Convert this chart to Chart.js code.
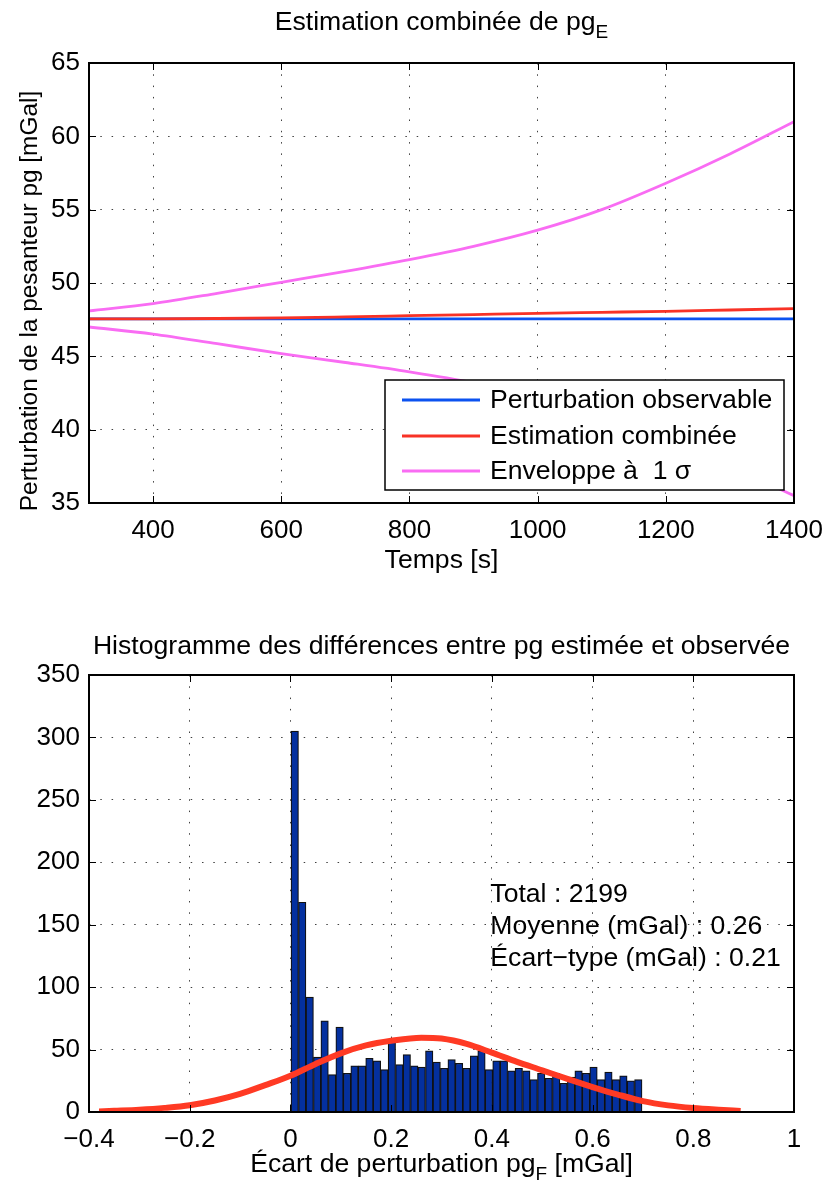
<!DOCTYPE html>
<html><head><meta charset="utf-8">
<script src="https://cdn.jsdelivr.net/npm/chart.js@4/dist/chart.umd.min.js"></script>
<style>
html,body{margin:0;padding:0;background:#fff;}
#wrap{position:relative;width:826px;height:1184px;overflow:hidden;}
canvas{position:absolute;left:0;}
</style></head><body>
<div id="wrap">
<canvas id="c1" width="826" height="592" style="top:0px"></canvas>
<canvas id="c2" width="826" height="592" style="top:592px"></canvas>
</div>
<script>
// ---------- Top chart data ----------
const timeS      = [300, 400, 500, 600, 700, 800, 900, 1000, 1100, 1200, 1300, 1400];
const observed   = [47.55, 47.55, 47.55, 47.55, 47.55, 47.55, 47.55, 47.55, 47.55, 47.55, 47.55, 47.55];
const combined   = [47.55, 47.56, 47.58, 47.62, 47.69, 47.77, 47.85, 47.93, 48.00, 48.07, 48.16, 48.25];
const envUpper   = [48.1, 48.6, 49.3, 50.05, 50.8, 51.6, 52.5, 53.6, 55.0, 56.8, 58.8, 61.0];
const envLower   = [47.0, 46.52, 45.86, 45.19, 44.58, 43.94, 43.2, 42.26, 41.0, 39.34, 37.52, 35.5];
const topXTicks  = [400, 600, 800, 1000, 1200, 1400];
const topYTicks  = [35, 40, 45, 50, 55, 60, 65];
const seriesLabels = ['Perturbation observable', 'Estimation combinée', 'Enveloppe à  1 σ'];

// ---------- Histogram data ----------
const binCenters = [0.0086, 0.0234, 0.0383, 0.0531, 0.0679, 0.0828, 0.0976, 0.1124, 0.1273, 0.1421,
                    0.1569, 0.1718, 0.1866, 0.2014, 0.2163, 0.2311, 0.2459, 0.2607, 0.2756, 0.2904,
                    0.3052, 0.3201, 0.3349, 0.3497, 0.3646, 0.3794, 0.3942, 0.4091, 0.4239, 0.4387,
                    0.4535, 0.4684, 0.4832, 0.4980, 0.5129, 0.5277, 0.5425, 0.5574, 0.5722, 0.5870,
                    0.6019, 0.6167, 0.6315, 0.6464, 0.6612, 0.6760, 0.6908];
const binCounts  = [305, 168, 92, 44, 73, 30, 68, 31, 37, 37,
                    43, 41, 34, 56, 38, 46, 37, 36, 49, 40,
                    35, 42, 39, 35, 45, 49, 34, 41, 41, 33,
                    35, 33, 26, 31, 27, 31, 23, 28, 33, 31,
                    36, 26, 32, 26, 29, 25, 26];
const fitX = [-0.38, -0.35, -0.3, -0.25, -0.2, -0.15, -0.1, -0.05, 0, 0.05, 0.1, 0.15, 0.2, 0.26,
              0.3, 0.35, 0.4, 0.45, 0.5, 0.55, 0.6, 0.65, 0.7, 0.75, 0.8, 0.85, 0.894];
const fitY = [0.5, 1.0, 1.9, 3.3, 5.4, 9.2, 14.5, 21.5, 29, 38.5, 47, 53.3, 57, 59.5,
              58.8, 54.5, 47.5, 40.2, 33.4, 26.5, 20, 14, 8.7, 5.3, 3.2, 1.8, 0.8];
const histXTicks = [-0.4, -0.2, 0, 0.2, 0.4, 0.6, 0.8, 1];
const histXTickLabels = ['\u22120.4', '\u22120.2', '0', '0.2', '0.4', '0.6', '0.8', '1'];
const histYTicks = [0, 50, 100, 150, 200, 250, 300, 350];
const statsLines = ['Total : 2199', 'Moyenne (mGal) : 0.26', '\u00C9cart\u2212type (mGal) : 0.21'];

// ---------- Styles ----------
const FONT = '"Liberation Sans", Arial, Helvetica, sans-serif';
const FS_TICK = 26;
const FS_TEXT = 26.6;
const gridStyle = {color: 'rgba(30,30,30,0.85)', lineWidth: 1, drawTicks: false};
const borderStyle = {display: false, dash: [1.5, 9.8]};

function drawParts(ctx, parts, x, y, align, size) {
  const fs = size || FS_TEXT;
  const main = fs + 'px ' + FONT, small = Math.round(fs * 0.72) + 'px ' + FONT;
  let total = 0;
  const widths = parts.map(p => { ctx.font = p.sub ? small : main; const w = ctx.measureText(p.t).width; total += w; return w; });
  let cx = align === 'center' ? x - total / 2 : x;
  ctx.textAlign = 'left';
  ctx.textBaseline = 'alphabetic';
  ctx.fillStyle = '#000';
  parts.forEach((p, i) => { ctx.font = p.sub ? small : main; ctx.fillText(p.t, cx, p.sub ? y + 8 : y); cx += widths[i]; });
}

const framePlugin = {
  id: 'matFrame',
  afterDraw(chart) {
    const {ctx, chartArea: a} = chart;
    const x = chart.scales.x, y = chart.scales.y;
    const tl = 7;
    ctx.save();
    ctx.strokeStyle = '#000';
    ctx.lineWidth = 1;
    ctx.beginPath();
    x.ticks.forEach(t => {
      const px = Math.round(x.getPixelForValue(t.value)) + 0.5;
      ctx.moveTo(px, a.bottom); ctx.lineTo(px, a.bottom - tl);
      ctx.moveTo(px, a.top); ctx.lineTo(px, a.top + tl);
    });
    y.ticks.forEach(t => {
      const py = Math.round(y.getPixelForValue(t.value)) + 0.5;
      ctx.moveTo(a.left, py); ctx.lineTo(a.left + tl, py);
      ctx.moveTo(a.right, py); ctx.lineTo(a.right - tl, py);
    });
    ctx.stroke();
    ctx.lineWidth = 2;
    ctx.strokeRect(a.left, a.top, a.right - a.left, a.bottom - a.top);
    ctx.restore();
  }
};

function fixedAxis(size, horiz) {
  return function (scale) {
    if (horiz) { scale.height = size; scale.paddingLeft = 0; scale.paddingRight = 0; }
    else { scale.width = size; scale.paddingTop = 0; scale.paddingBottom = 0; }
  };
}

// ---------- Top chart ----------
const topLegendPlugin = {
  id: 'topLegend',
  afterDatasetsDraw(chart) {
    const {ctx, chartArea: a} = chart;
    const w = 399, h = 110;
    const right = a.right - 10, bottom = a.bottom - 13;
    const left = right - w, top = bottom - h;
    ctx.save();
    ctx.fillStyle = '#fff';
    ctx.fillRect(left, top, w, h);
    ctx.strokeStyle = '#000';
    ctx.lineWidth = 1.5;
    ctx.strokeRect(left, top, w, h);
    const rows = [20, 56, 91];
    seriesLabels.forEach((lab, i) => {
      const ds = chart.data.datasets[i];
      const yy = top + rows[i];
      ctx.strokeStyle = ds.borderColor;
      ctx.lineWidth = ds.borderWidth;
      ctx.beginPath(); ctx.moveTo(left + 17, yy); ctx.lineTo(left + 95, yy); ctx.stroke();
      ctx.fillStyle = '#000';
      ctx.font = FS_TEXT + 'px ' + FONT;
      ctx.textAlign = 'left';
      ctx.textBaseline = 'middle';
      ctx.fillText(lab, left + 105, yy + 1);
    });
    ctx.restore();
  }
};
const topTextPlugin = {
  id: 'topText',
  afterDraw(chart) {
    const {ctx, chartArea: a} = chart;
    const cx = (a.left + a.right) / 2;
    ctx.save();
    drawParts(ctx, [{t: 'Estimation combinée de pg'}, {t: 'E', sub: true}], cx, a.top - 33, 'center');
    drawParts(ctx, [{t: 'Temps [s]'}], cx, a.bottom + 65, 'center');
    ctx.translate(37, 301);
    ctx.rotate(-Math.PI / 2);
    drawParts(ctx, [{t: 'Perturbation de la pesanteur pg [mGal]'}], 0, 0, 'center', 24.4);
    ctx.restore();
  }
};

const pts = (xs, ys) => xs.map((v, i) => ({x: v, y: ys[i]}));
const lineDs = (label, ys, color, order) => ({
  label, data: pts(timeS, ys), borderColor: color, borderWidth: 2.8,
  pointRadius: 0, fill: false, cubicInterpolationMode: 'monotone', order
});

new Chart(document.getElementById('c1'), {
  type: 'line',
  data: {
    datasets: [
      lineDs(seriesLabels[0], observed, '#0c52f0', 3),
      lineDs(seriesLabels[1], combined, '#f83226', 2),
      lineDs(seriesLabels[2], envUpper, '#f96cf3', 1),
      lineDs(seriesLabels[2], envLower, '#f96cf3', 1)
    ]
  },
  options: {
    responsive: false, animation: false, events: [],
    layout: {padding: {top: 63, right: 32, left: 0, bottom: 0}},
    plugins: {legend: {display: false}, title: {display: false}, tooltip: {enabled: false}},
    scales: {
      x: {
        type: 'linear', min: 300, max: 1400, offset: false,
        afterBuildTicks: s => { s.ticks = topXTicks.map(v => ({value: v})); },
        afterFit: fixedAxis(89, true),
        grid: gridStyle, border: borderStyle,
        ticks: {autoSkip: false, maxRotation: 0, padding: 12, color: '#000', font: {family: FONT, size: FS_TICK}, callback: v => String(v)}
      },
      y: {
        type: 'linear', min: 35, max: 65,
        afterBuildTicks: s => { s.ticks = topYTicks.map(v => ({value: v})); },
        afterFit: fixedAxis(89, false),
        grid: gridStyle, border: borderStyle,
        ticks: {autoSkip: false, padding: 9, color: '#000', font: {family: FONT, size: FS_TICK}, callback: v => String(v)}
      }
    }
  },
  plugins: [topLegendPlugin, framePlugin, topTextPlugin]
});

// ---------- Histogram chart ----------
const histTextPlugin = {
  id: 'histText',
  afterDraw(chart) {
    const {ctx, chartArea: a} = chart;
    const cx = (a.left + a.right) / 2;
    ctx.save();
    drawParts(ctx, [{t: 'Histogramme des différences entre pg estimée et observée'}], cx, a.top - 21, 'center');
    drawParts(ctx, [{t: '\u00C9cart de perturbation pg'}, {t: 'F', sub: true}, {t: ' [mGal]'}], cx, a.bottom + 60, 'center');
    const sx = chart.scales.x.getPixelForValue(0.397);
    statsLines.forEach((s, i) => {
      drawParts(ctx, [{t: s}], sx, chart.scales.y.getPixelForValue(168) + i * 32, 'left');
    });
    ctx.restore();
  }
};

new Chart(document.getElementById('c2'), {
  type: 'bar',
  data: {
    datasets: [
      {
        type: 'line', label: 'fit', data: pts(fitX, fitY),
        borderColor: '#ff3a24', borderWidth: 6, pointRadius: 0, fill: false,
        cubicInterpolationMode: 'monotone', order: 0
      },
      {
        type: 'bar', label: 'hist', data: pts(binCenters, binCounts),
        backgroundColor: '#04309f', borderColor: '#111', borderWidth: 1.2,
        barPercentage: 1, categoryPercentage: 1, borderSkipped: 'bottom', order: 1
      }
    ]
  },
  options: {
    responsive: false, animation: false, events: [],
    layout: {padding: {top: 83, right: 32, left: 0, bottom: 0}},
    plugins: {legend: {display: false}, title: {display: false}, tooltip: {enabled: false}},
    scales: {
      x: {
        type: 'linear', min: -0.4, max: 1, offset: false,
        afterBuildTicks: s => { s.ticks = histXTicks.map(v => ({value: v})); },
        afterFit: fixedAxis(72, true),
        grid: Object.assign({offset: false}, gridStyle), border: borderStyle,
        ticks: {autoSkip: false, maxRotation: 0, padding: 12, color: '#000', font: {family: FONT, size: FS_TICK},
                callback: (v, i) => histXTickLabels[i]}
      },
      y: {
        type: 'linear', min: 0, max: 350,
        afterBuildTicks: s => { s.ticks = histYTicks.map(v => ({value: v})); },
        afterFit: fixedAxis(89, false),
        grid: gridStyle, border: borderStyle,
        ticks: {autoSkip: false, padding: 9, color: '#000', font: {family: FONT, size: FS_TICK}, callback: v => String(v)}
      }
    }
  },
  plugins: [framePlugin, histTextPlugin]
});
</script>
</body></html>
